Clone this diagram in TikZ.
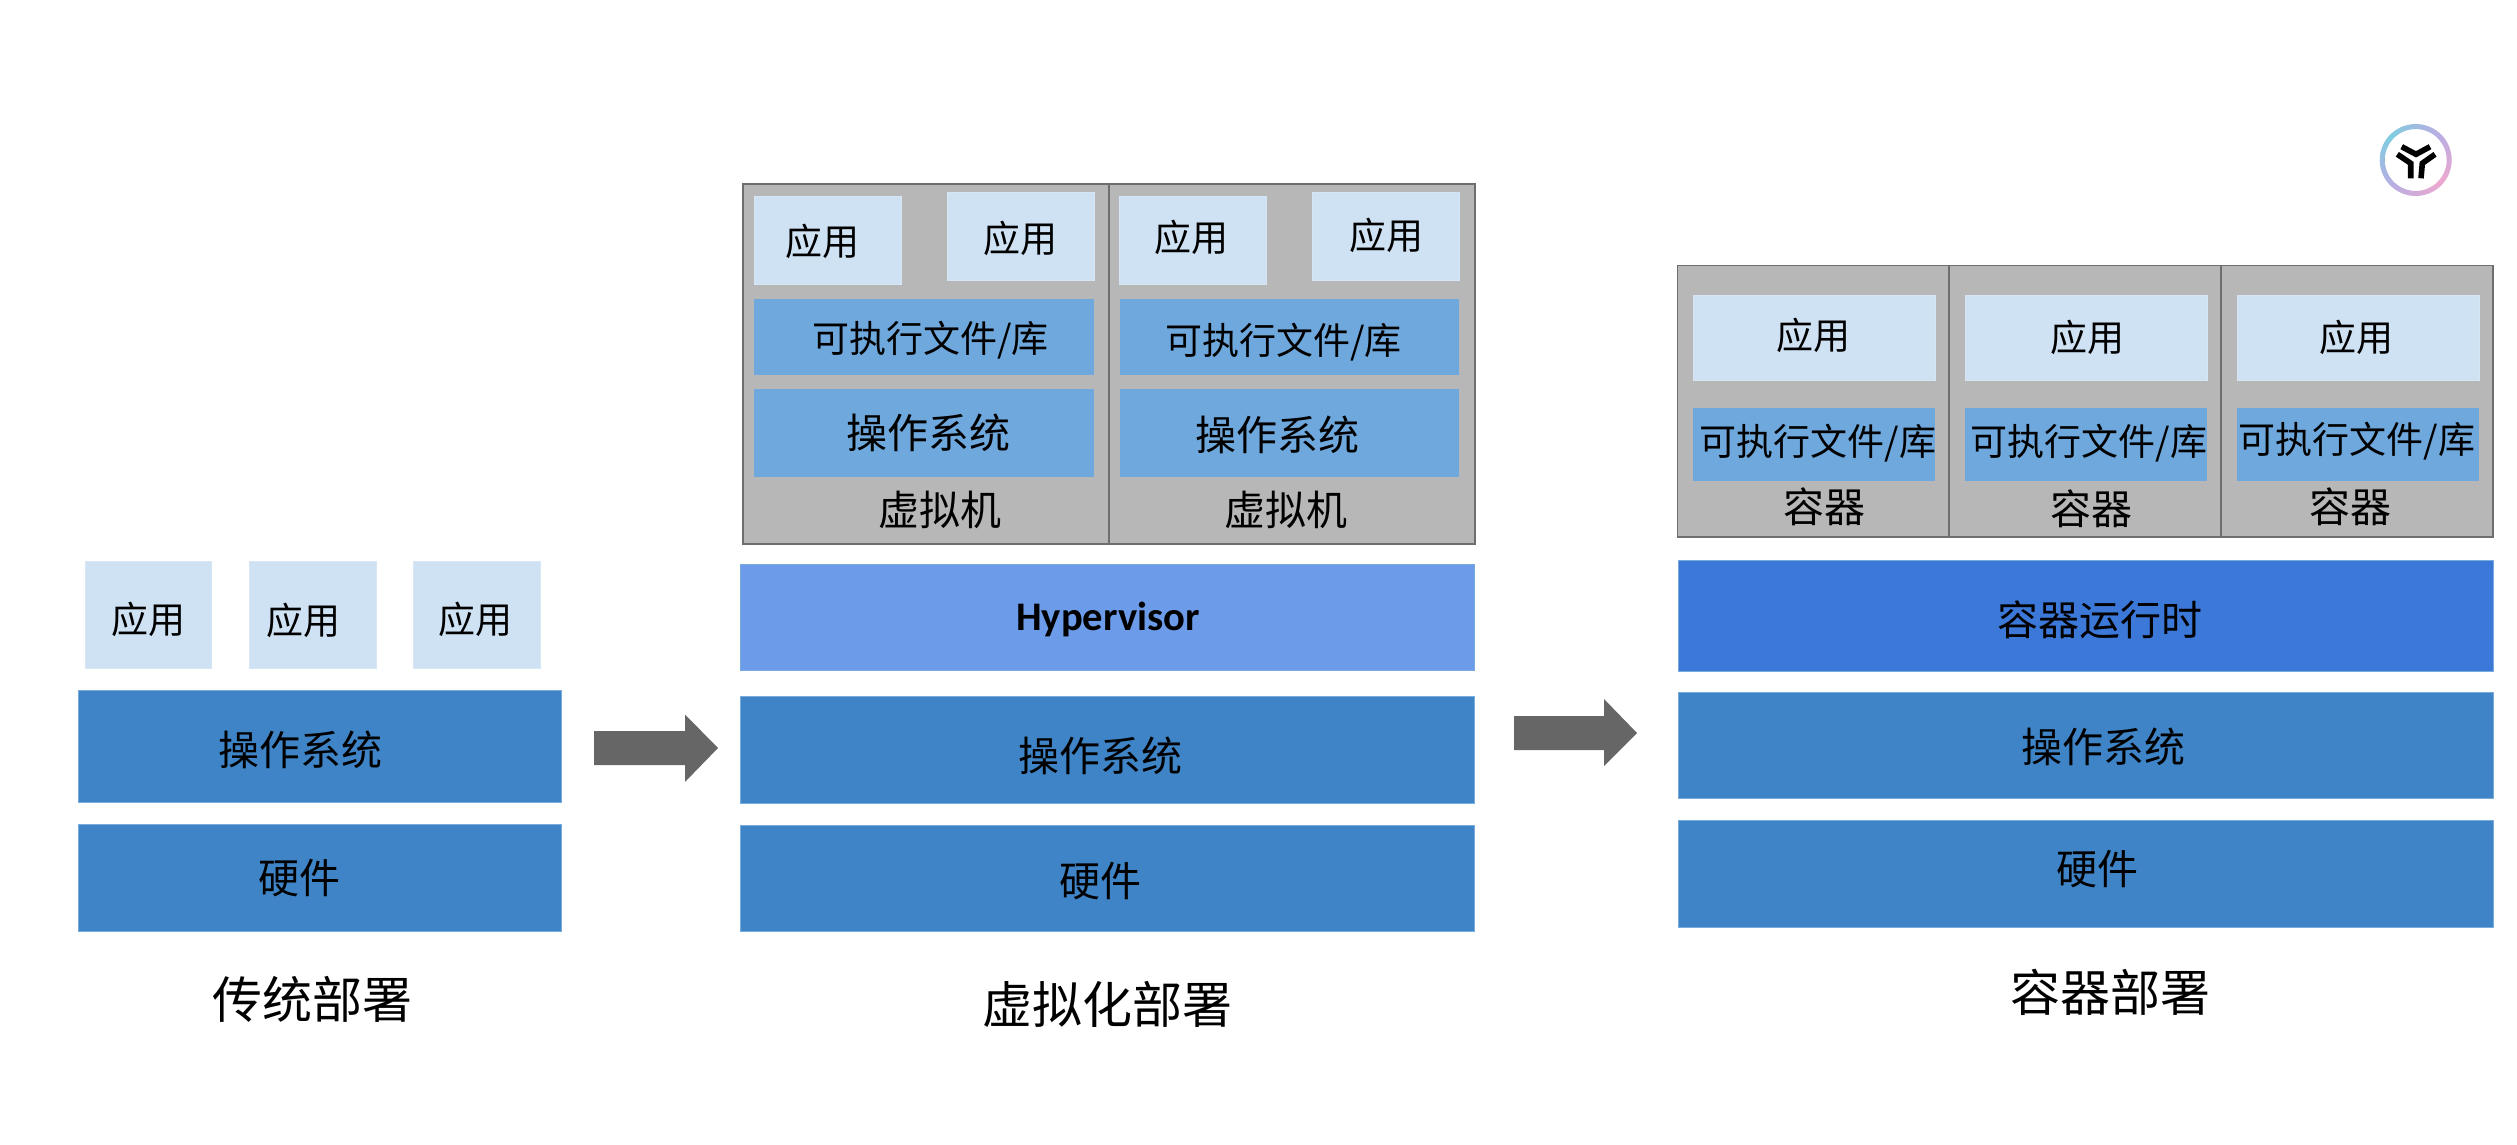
\documentclass[tikz,border=0pt]{standalone}
\usepackage{fontspec}
\setmainfont{Noto Sans CJK SC}
\newfontfamily\latinbold{Carlito}
\definecolor{appc}{HTML}{CFE2F3}
\definecolor{appe}{HTML}{D6E6F5}
\definecolor{osc}{HTML}{3E84C6}
\definecolor{ose}{HTML}{7AABDD}
\definecolor{exec}{HTML}{6FA8DC}
\definecolor{hyp}{HTML}{6C9CE9}
\definecolor{rt}{HTML}{3C78D8}
\definecolor{grayc}{HTML}{B7B7B7}
\definecolor{grayl}{HTML}{6E6E6E}
\definecolor{arrowc}{HTML}{666666}
\definecolor{ringa}{HTML}{7FCDE0}
\definecolor{ringb}{HTML}{B9AEE3}
\definecolor{ringc}{HTML}{EEA8CF}
\tikzset{
  x=0.5pt,y=-0.5pt,
  boxbase/.style={rectangle,inner sep=0pt,outer sep=0pt,line width=0.4pt},
  appbox/.style={boxbase,fill=appc,draw=appe},
  osbox/.style={boxbase,fill=osc,draw=ose},
  execbox/.style={boxbase,fill=exec,draw=none},
  hypbox/.style={boxbase,fill=hyp,draw=ose},
  rtbox/.style={boxbase,fill=rt,draw=ose},
  grbox/.style={boxbase,fill=grayc,draw=grayl,line width=0.9pt},
  txt/.style={inner sep=0pt,text=black,font=\fontsize{20.5}{24}\selectfont},
  apptxt/.style={txt,font=\fontsize{18.5}{22}\selectfont},
  exetxt/.style={txt,font=\fontsize{18.5}{22}\selectfont},
  titletxt/.style={txt,font=\fontsize{25}{30}\selectfont},
  hyptxt/.style={txt,font=\latinbold\bfseries\fontsize{20.3}{24}\selectfont},
  blockarrow/.style={fill=arrowc,draw=none},
  sym/.style={line width=2.8pt,black,line cap=butt,line join=miter},
}
\newcommand{\bx}[6]{%
  \pgfmathsetmacro{\bw}{(#5-#3)*0.5}%
  \pgfmathsetmacro{\bh}{(#6-#4)*0.5}%
  \pgfmathsetmacro{\bcx}{(#3+#5)/2}%
  \pgfmathsetmacro{\bcy}{(#4+#6)/2}%
  \node[#2,minimum width=\bw pt,minimum height=\bh pt] (#1) at (\bcx,\bcy) {};}
\newcommand{\tx}[5]{\node[#2] (#1) at (#3,#4) {#5};}
\begin{document}
\begin{tikzpicture}
\useasboundingbox (0,0) rectangle (2517,1145);
% traditional
\bx{ta}{appbox}{85}{561.5}{211}{668}
\bx{tb}{appbox}{249.5}{561.5}{376}{668}
\bx{tc}{appbox}{413.5}{561.5}{540}{668}
\bx{tos}{osbox}{78.5}{690.5}{561}{802}
\bx{thw}{osbox}{78.5}{824}{561}{931}
\tx{tat}{apptxt}{148}{619}{应用}
\tx{tbt}{apptxt}{303}{620}{应用}
\tx{tct}{apptxt}{475}{619}{应用}
\tx{tost}{txt}{300.5}{750}{操作系统}
\tx{thwt}{txt}{299.5}{878.5}{硬件}
\tx{ttitle}{titletxt}{312}{999}{传统部署}
% arrows
\path[blockarrow] (594,731) -- (685,731) -- (685,714.5) -- (718,748) -- (685,782) -- (685,765) -- (594,765) -- cycle;
\path[blockarrow] (1514,716) -- (1604,716) -- (1604,699) -- (1637,733) -- (1604,766) -- (1604,750) -- (1514,750) -- cycle;
% virtualised
\bx{vm1}{grbox}{743}{184}{1109}{544}
\bx{vm2}{grbox}{1109}{184}{1475}{544}
\bx{va}{appbox}{754}{196}{901}{284}
\bx{vb}{appbox}{947}{192}{1094}{280}
\bx{vc}{appbox}{1119.5}{196}{1266}{284}
\bx{vd}{appbox}{1312.5}{192}{1459}{280}
\bx{ve1}{execbox}{754}{298.5}{1094}{374.5}
\bx{ve2}{execbox}{1119.5}{298.5}{1459}{374.5}
\bx{vo1}{execbox}{754}{389}{1094}{477}
\bx{vo2}{execbox}{1119.5}{389}{1459}{477}
\tx{vat}{apptxt}{822.5}{241.5}{应用}
\tx{vbt}{apptxt}{1020}{238}{应用}
\tx{vct}{apptxt}{1191.5}{237.5}{应用}
\tx{vdt}{apptxt}{1386.5}{235.5}{应用}
\tx{ve1t}{exetxt}{930.5}{340}{可执行文件/库}
\tx{ve2t}{exetxt}{1283.5}{342}{可执行文件/库}
\tx{vo1t}{txt}{928}{432.5}{操作系统}
\tx{vo2t}{txt}{1277.5}{434.5}{操作系统}
\tx{vm1t}{txt}{940}{509.5}{虚拟机}
\tx{vm2t}{txt}{1286}{509.5}{虚拟机}
\bx{vh}{hypbox}{740}{564}{1474.5}{670}
\tx{vht}{hyptxt}{1108}{619}{Hypervisor}
\bx{vos}{osbox}{740}{696.5}{1474}{803}
\bx{vhw}{osbox}{740}{825}{1474}{931}
\tx{vost}{txt}{1100}{756}{操作系统}
\tx{vhwt}{txt}{1100}{881.5}{硬件}
\tx{vtitle}{titletxt}{1107}{1004}{虚拟化部署}
% containers
\bx{c1}{grbox}{1677.5}{265.5}{1949}{537}
\bx{c2}{grbox}{1949}{265.5}{2221}{537}
\bx{c3}{grbox}{2221}{265.5}{2493}{537}
\bx{ca}{appbox}{1693.5}{295}{1935}{380}
\bx{cb}{appbox}{1965.5}{295}{2207}{380}
\bx{cc}{appbox}{2237.5}{295}{2479}{380}
\bx{ce1}{execbox}{1693}{407.5}{1935}{481}
\bx{ce2}{execbox}{1965}{407.5}{2207}{481}
\bx{ce3}{execbox}{2237}{407.5}{2479}{481}
\tx{cat}{apptxt}{1813}{335.5}{应用}
\tx{cbt}{apptxt}{2087.5}{337.5}{应用}
\tx{cct}{apptxt}{2356.5}{337.5}{应用}
\tx{ce1t}{exetxt}{1818}{443.5}{可执行文件/库}
\tx{ce2t}{exetxt}{2089}{443.5}{可执行文件/库}
\tx{ce3t}{exetxt}{2357}{441.5}{可执行文件/库}
\tx{c1t}{txt}{1824}{507}{容器}
\tx{c2t}{txt}{2091}{508.5}{容器}
\tx{c3t}{txt}{2350.5}{507}{容器}
\bx{cr}{rtbox}{1678}{560}{2493}{671}
\tx{crt}{txt}{2099.5}{620}{容器运行时}
\bx{cos}{osbox}{1678}{692.5}{2493}{798.5}
\bx{chw}{osbox}{1678}{820.5}{2493}{927}
\tx{cost}{txt}{2103.5}{746.5}{操作系统}
\tx{chwt}{txt}{2097}{869.5}{硬件}
\tx{ctitle}{titletxt}{2110}{992}{容器部署}
% logo
\foreach \a in {0,6,...,354}{%
  \pgfmathsetmacro{\d}{mod(\a-135+720,360)}%
  \pgfmathsetmacro{\t}{\d<=180 ? \d/180 : (360-\d)/180}%
  \pgfmathsetmacro{\p}{\t<0.5 ? 200*\t : 200*(\t-0.5)}%
  \ifdim\t pt<0.5pt
    \colorlet{ringcur}{ringb!\p!ringa}%
  \else
    \colorlet{ringcur}{ringc!\p!ringb}%
  \fi
  \pgfmathsetmacro{\ae}{\a+7}%
  \draw[ringcur,line width=2.5pt] ({2415.7+33.5*cos(\a)},{160-33.5*sin(\a)}) arc[start angle=-\a,end angle=-\ae,radius=33.5];
}
\draw[sym] (2401.7,146.7) -- (2416,154.3) -- (2430,146.7);
\draw[sym] (2397.3,154.3) -- (2410.7,163.3) -- (2410.7,178.3);
\draw[sym] (2435,154.3) -- (2422.3,163.3) -- (2421,178.3);
\end{tikzpicture}
\end{document}
